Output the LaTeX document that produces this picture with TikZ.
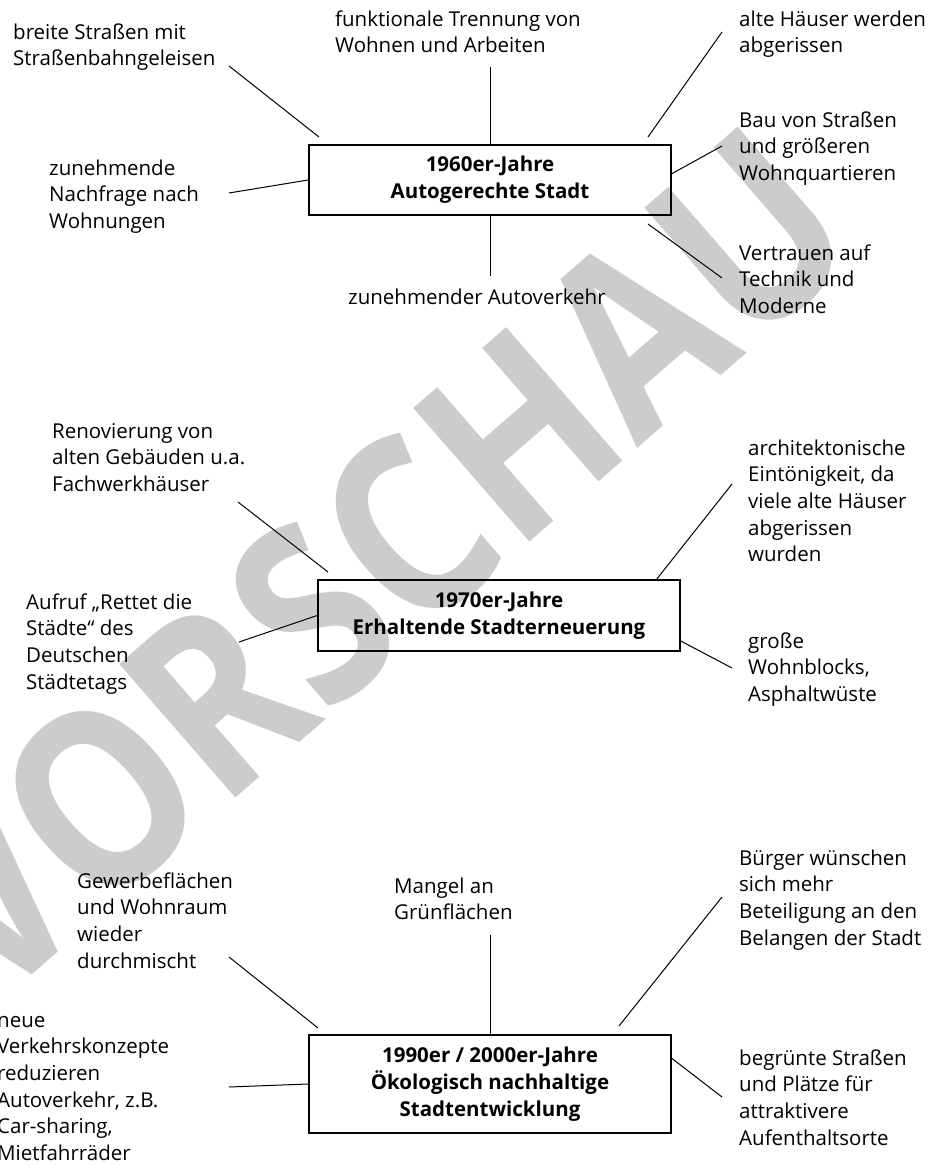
\documentclass[tikz,border=0pt]{standalone}
\usepackage{fontspec}
\setmainfont{Open Sans}
\newcommand{\lblfont}{\fontsize{20.5}{26.7}\selectfont}
\newcommand{\boxfont}{\fontsize{20.5}{26.7}\selectfont\bfseries}
\begin{document}
\begin{tikzpicture}[x=1pt,y=-1pt,
  lbl/.style={font=\lblfont, align=left, anchor=north west, inner sep=0pt},
  era/.style={draw, line width=1.8pt, font=\boxfont, align=center, minimum width=362pt, inner sep=0pt},
  conn/.style={line width=1pt},
  wmark/.style={rotate=41, font=\fontsize{248}{248}\selectfont\bfseries, text=black!20, inner sep=0pt}]
\useasboundingbox (0,0) rectangle (934,1166);
% watermark
\node[wmark] (wm) at (372,562) {\scalebox{0.85}[1]{VORSCHAU}};

% ---------- 1960er ----------
\node[era, minimum height=70pt] (b1) at (490,180) {1960er-Jahre\\Autogerechte Stadt};
\node[lbl] (t1) at (13,20.2) {\strut breite Straßen mit\\Straßenbahngeleisen};
\node[lbl] (t2) at (335,7.2) {\strut funktionale Trennung von\\Wohnen und Arbeiten};
\node[lbl] (t3) at (739,7.2) {\strut alte Häuser werden\\abgerissen};
\node[lbl] (t4) at (49,156.2) {\strut zunehmende\\Nachfrage nach\\Wohnungen};
\node[lbl] (t5) at (739,108.2) {\strut Bau von Straßen\\und größeren\\Wohnquartieren};
\node[lbl] (t6) at (739,241.2) {\strut Vertrauen auf\\Technik und\\Moderne};
\node[lbl] (t7) at (348,285.2) {\strut zunehmender Autoverkehr};

\coordinate (a1s) at (319,137); \coordinate (a1e) at (229,66);
\coordinate (a2e) at (490,67);
\coordinate (a3s) at (648,137); \coordinate (a3e) at (722,32);
\coordinate (a4e) at (229,193);
\coordinate (a5e) at (722,146);
\coordinate (a6s) at (648,224); \coordinate (a6e) at (722,278);
\coordinate (a7e) at (490,276);
\draw[conn] (a1s) -- (a1e);
\draw[conn] (b1.north) -- (a2e);
\draw[conn] (a3s) -- (a3e);
\draw[conn] (b1.west) -- (a4e);
\draw[conn] (b1.2) -- (a5e);
\draw[conn] (a6s) -- (a6e);
\draw[conn] (b1.south) -- (a7e);

% ---------- 1970er ----------
\node[era, minimum height=71pt] (b2) at (499,615.5) {1970er-Jahre\\Erhaltende Stadterneuerung};
\node[lbl] (r1) at (52,419.2) {\strut Renovierung von\\alten Gebäuden u.a.\\Fachwerkhäuser};
\node[lbl] (r2) at (26,590.2) {\strut Aufruf „Rettet die\\Städte“ des\\Deutschen\\Städtetags};
\node[lbl] (r3) at (748,436.2) {\strut architektonische\\Eintönigkeit, da\\viele alte Häuser\\abgerissen\\wurden};
\node[lbl] (r4) at (748,629.2) {\strut große\\Wohnblocks,\\Asphaltwüste};

\coordinate (c1s) at (328,572); \coordinate (c1e) at (238,502);
\coordinate (c2e) at (239,642);
\coordinate (c3e) at (732,484);
\coordinate (c4e) at (732,668);
\draw[conn] (c1s) -- (c1e);
\draw[conn] (b2.west) -- (c2e);
\draw[conn] (b2.13) -- (c3e);
\draw[conn] (b2.-8) -- (c4e);

% ---------- 1990er ----------
\node[era, minimum height=98pt] (b3) at (490,1084) {1990er / 2000er-Jahre\\Ökologisch nachhaltige\\Stadtentwicklung};
\node[lbl] (g1) at (77,869.2) {\strut Gewerbeflächen\\und Wohnraum\\wieder\\durchmischt};
\node[lbl] (g2) at (-3,1008.2) {\strut neue\\Verkehrskonzepte\\reduzieren\\Autoverkehr, z.B.\\Car-sharing,\\Mietfahrräder};
\node[lbl] (g3) at (394,874.2) {\strut Mangel an\\Grünflächen};
\node[lbl] (g4) at (739,846.2) {\strut Bürger wünschen\\sich mehr\\Beteiligung an den\\Belangen der Stadt};
\node[lbl] (g5) at (739,1046.2) {\strut begrünte Straßen\\und Plätze für\\attraktivere\\Aufenthaltsorte};

\coordinate (d1s) at (318,1028); \coordinate (d1e) at (229,957);
\coordinate (d2e) at (229,1087);
\coordinate (d3e) at (490,935);
\coordinate (d4s) at (619,1026); \coordinate (d4e) at (722,897);
\coordinate (d5e) at (722,1097);
\draw[conn] (d1s) -- (d1e);
\draw[conn] (b3.west) -- (d2e);
\draw[conn] (b3.north) -- (d3e);
\draw[conn] (d4s) -- (d4e);
\draw[conn] (b3.8) -- (d5e);
\end{tikzpicture}
\end{document}
